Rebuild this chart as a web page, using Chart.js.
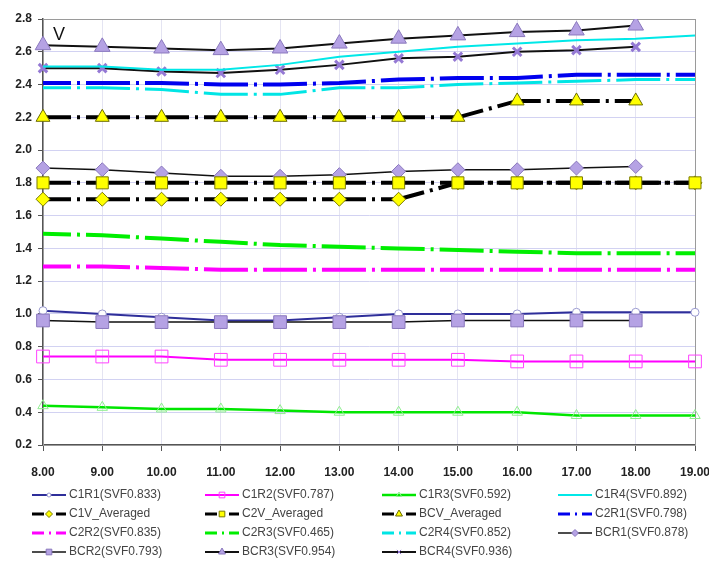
<!DOCTYPE html>
<html>
<head>
<meta charset="utf-8">
<script src="https://cdn.jsdelivr.net/npm/chart.js@4.4.1/dist/chart.umd.min.js"></script>
<style>
	html, body { margin: 0; padding: 0; background: #fff; }
	#wrap { width: 709px; height: 561px; }
</style>
</head>
<body>
<div id="wrap"><canvas id="vChart" width="709" height="561"></canvas></div>
<script>
const hours = ['8.00', '9.00', '10.00', '11.00', '12.00', '13.00', '14.00', '15.00', '16.00', '17.00', '18.00', '19.00'];

const c1r1 = [1.02, 1.00, 0.98, 0.96, 0.96, 0.98, 1.00, 1.00, 1.00, 1.01, 1.01, 1.01];
const c1r2 = [0.74, 0.74, 0.74, 0.72, 0.72, 0.72, 0.72, 0.72, 0.71, 0.71, 0.71, 0.71];
const c1r3 = [0.44, 0.43, 0.42, 0.42, 0.41, 0.40, 0.40, 0.40, 0.40, 0.38, 0.38, 0.38];
const c1r4 = [2.51, 2.51, 2.49, 2.49, 2.52, 2.57, 2.60, 2.63, 2.65, 2.67, 2.68, 2.70];
const c1vAveraged = [1.70, 1.70, 1.70, 1.70, 1.70, 1.70, 1.70, 1.80, 1.80, 1.80, 1.80, 1.80];
const c2vAveraged = [1.80, 1.80, 1.80, 1.80, 1.80, 1.80, 1.80, 1.80, 1.80, 1.80, 1.80, 1.80];
const bcvAveraged = [2.20, 2.20, 2.20, 2.20, 2.20, 2.20, 2.20, 2.20, 2.30, 2.30, 2.30];
const c2r1 = [2.41, 2.41, 2.41, 2.40, 2.40, 2.41, 2.43, 2.44, 2.44, 2.46, 2.46, 2.46];
const c2r2 = [1.29, 1.29, 1.28, 1.27, 1.27, 1.27, 1.27, 1.27, 1.27, 1.27, 1.27, 1.27];
const c2r3 = [1.49, 1.48, 1.46, 1.44, 1.42, 1.41, 1.40, 1.39, 1.38, 1.37, 1.37, 1.37];
const c2r4 = [2.38, 2.38, 2.37, 2.34, 2.34, 2.38, 2.38, 2.40, 2.41, 2.42, 2.43, 2.43];
const bcr1 = [1.89, 1.88, 1.86, 1.84, 1.84, 1.85, 1.87, 1.88, 1.88, 1.89, 1.90];
const bcr2 = [0.96, 0.95, 0.95, 0.95, 0.95, 0.95, 0.95, 0.96, 0.96, 0.96, 0.96];
const bcr3 = [2.64, 2.63, 2.62, 2.61, 2.62, 2.65, 2.68, 2.70, 2.72, 2.73, 2.76];
const bcr4 = [2.50, 2.50, 2.48, 2.47, 2.49, 2.52, 2.56, 2.57, 2.60, 2.61, 2.63];

const FONT = '"Liberation Sans", Arial, sans-serif';
const DASH_DOT = [44, 6, 3, 6];
const LAVENDER = '#b5a2e4';
const LAVENDER_EDGE = '#8a78bd';

function series(label, data, color, width, extra) {
	return Object.assign({
		label: label,
		data: data,
		borderColor: color,
		borderWidth: width,
		tension: 0,
		pointRadius: 0,
		pointStyle: 'circle',
		pointBackgroundColor: 'rgba(0,0,0,0)',
		pointBorderColor: color,
		pointBorderWidth: 1
	}, extra || {});
}

function dashed(extra) {
	return Object.assign({ borderDash: DASH_DOT, borderDashOffset: 16, borderCapStyle: 'butt' }, extra || {});
}

const datasets = [
	series('C1R1(SVF0.833)', c1r1, '#2e2e9a', 2, { order: 1, pointRadius: 4, pointBackgroundColor: '#fff', pointBorderColor: '#9a9ad0' }),
	series('C1R2(SVF0.787)', c1r2, '#ff00ff', 2, { pointStyle: 'rect', pointRadius: 9, pointBorderColor: '#ff40ff' }),
	series('C1R3(SVF0.592)', c1r3, '#00e600', 2.5, { pointStyle: 'triangle', pointRadius: 6, pointBorderColor: '#90ee90' }),
	series('C1R4(SVF0.892)', c1r4, '#00e8e8', 2),
	series('C1V_Averaged', c1vAveraged, '#000', 4, dashed({ order: 1, pointStyle: 'rectRot', pointRadius: 7, pointBackgroundColor: '#ffff00', pointBorderColor: '#7a7a00' })),
	series('C2V_Averaged', c2vAveraged, '#000', 4, dashed({ pointStyle: 'rect', pointRadius: 8.5, pointBackgroundColor: '#ffff00', pointBorderColor: '#7a7a00' })),
	series('BCV_Averaged', bcvAveraged, '#000', 4, dashed({ pointStyle: 'triangle', pointRadius: 8, pointBackgroundColor: '#ffff00', pointBorderColor: '#6b6b00' })),
	series('C2R1(SVF0.798)', c2r1, '#0000ee', 4, dashed()),
	series('C2R2(SVF0.835)', c2r2, '#ff00ff', 4, dashed()),
	series('C2R3(SVF0.465)', c2r3, '#00ee00', 4, dashed()),
	series('C2R4(SVF0.852)', c2r4, '#00e5e5', 3, dashed()),
	series('BCR1(SVF0.878)', bcr1, '#111', 1.5, { pointStyle: 'rectRot', pointRadius: 7, pointBackgroundColor: LAVENDER, pointBorderColor: LAVENDER_EDGE }),
	series('BCR2(SVF0.793)', bcr2, '#111', 1.5, { pointStyle: 'rect', pointRadius: 9, pointBackgroundColor: LAVENDER, pointBorderColor: LAVENDER_EDGE }),
	series('BCR3(SVF0.954)', bcr3, '#111', 2, { pointStyle: 'triangle', pointRadius: 9, pointBackgroundColor: LAVENDER, pointBorderColor: LAVENDER_EDGE }),
	series('BCR4(SVF0.936)', bcr4, '#111', 2, { pointStyle: 'crossRot', pointRadius: 6, pointBorderColor: '#9478d4', pointBorderWidth: 3 })
];

// frame round the plot, the "V" tag and the 4-column legend under the axis
const extras = {
	id: 'extras',
	beforeDatasetsDraw(chart) {
		const { ctx, chartArea: a } = chart;
		ctx.save();
		ctx.strokeStyle = '#9a9a9a';
		ctx.lineWidth = 1;
		ctx.strokeRect(a.left + 0.5, a.top + 0.5, a.width, a.height);
		ctx.restore();
	},
	afterDraw(chart) {
		const { ctx, chartArea: a } = chart;
		ctx.save();
		ctx.font = '18px ' + FONT;
		ctx.fillStyle = '#111';
		ctx.textBaseline = 'middle';
		ctx.fillText('V', a.left + 10, a.top + 16);

		const cols = [32, 205, 382, 558];
		const rows = [495, 514, 533, 552];
		ctx.font = '12px ' + FONT;
		chart.data.datasets.forEach((ds, i) => {
			const x = cols[i % 4];
			const y = rows[Math.floor(i / 4)];
			ctx.save();
			ctx.strokeStyle = ds.borderColor;
			ctx.lineWidth = Math.min(ds.borderWidth, 3);
			ctx.setLineDash(ds.borderDash ? [12, 5, 2, 5] : []);
			ctx.beginPath();
			ctx.moveTo(x, y);
			ctx.lineTo(x + 34, y);
			ctx.stroke();
			ctx.setLineDash([]);
			if (ds.pointRadius > 0) {
				ctx.fillStyle = ds.pointBackgroundColor;
				ctx.strokeStyle = ds.pointBorderColor;
				ctx.lineWidth = 1;
				Chart.helpers.drawPoint(ctx, {
					pointStyle: ds.pointStyle,
					radius: Math.min(ds.pointRadius * 0.5, 4),
					rotation: 0,
					borderWidth: 1
				}, x + 17, y);
			}
			ctx.restore();
			ctx.fillStyle = '#444';
			ctx.fillText(ds.label, x + 37, y);
		});
		ctx.restore();
	}
};

const vChart = new Chart(document.getElementById('vChart'), {
	type: 'line',
	data: { labels: hours, datasets: datasets },
	options: {
		responsive: false,
		animation: false,
		devicePixelRatio: 1,
		layout: { padding: { left: 8, right: 14, top: 19, bottom: 81 } },
		plugins: { legend: { display: false }, tooltip: { enabled: false } },
		scales: {
			x: {
				offset: false,
				grid: { color: '#e4e4f2', tickColor: '#555', tickLength: 6 },
				border: { color: '#555', width: 1.5 },
				ticks: { color: '#222', font: { family: FONT, size: 12, weight: 'bold' }, padding: 14, maxRotation: 0, autoSkip: false },
				afterFit(scale) {
					scale.height = 35;
					scale.paddingLeft = 0;
					scale.paddingRight = 0;
				}
			},
			y: {
				min: 0.2,
				max: 2.8,
				grid: {
					color: '#d2d2f2',
					tickLength: 5,
					tickColor: (c) => (Math.round(c.tick.value * 10) % 2 === 0 ? '#555' : 'rgba(0,0,0,0)')
				},
				border: { color: '#555', width: 1.5 },
				ticks: {
					stepSize: 0.1,
					color: '#222',
					padding: 6,
					font: { family: FONT, size: 12, weight: 'bold' },
					callback: (v) => (Math.round(v * 10) % 2 === 0 ? v.toFixed(1) : '')
				},
				afterFit(scale) {
					scale.width = 35;
				}
			}
		}
	},
	plugins: [extras]
});
</script>
</body>
</html>
